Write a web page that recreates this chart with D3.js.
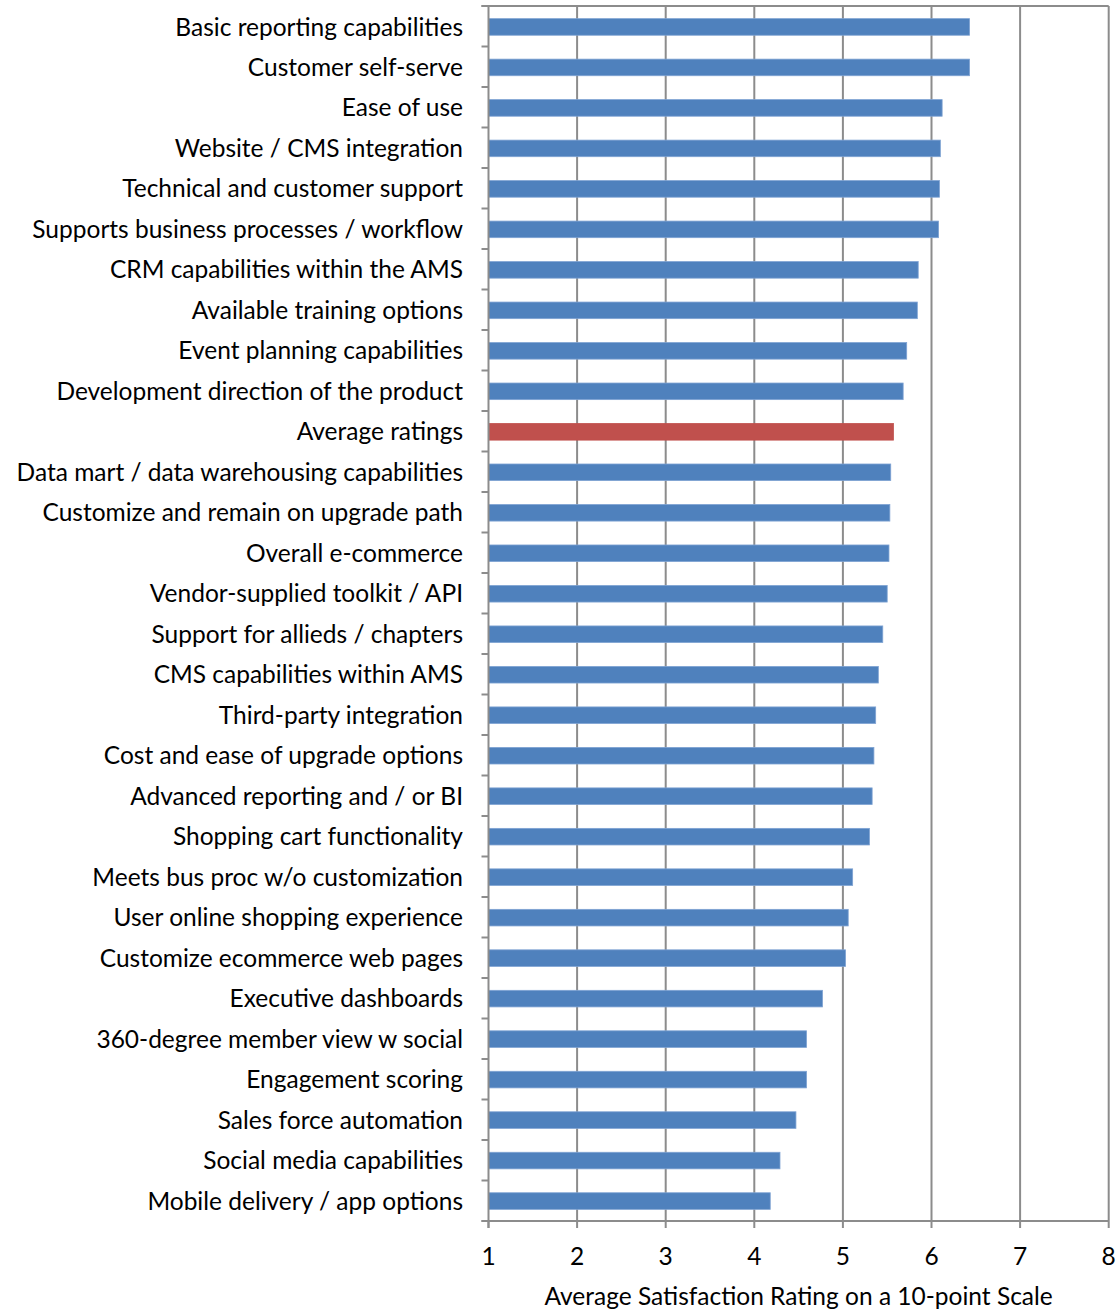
<!DOCTYPE html>
<html><head><meta charset="utf-8">
<script src="https://cdn.jsdelivr.net/npm/d3@7"></script>
<style>body{margin:0;background:#fff;} svg{display:block;} text{font-family:Lato,"Liberation Sans",sans-serif;fill:#000;}</style>
</head><body>
<script>
const categories = ["Basic reporting capabilities","Customer self-serve","Ease of use","Website / CMS integration","Technical and customer support","Supports business processes / workflow","CRM capabilities within the AMS","Available training options","Event planning capabilities","Development direction of the product","Average ratings","Data mart / data warehousing capabilities","Customize and remain on upgrade path","Overall e-commerce","Vendor-supplied toolkit / API","Support for allieds / chapters","CMS capabilities within AMS","Third-party integration","Cost and ease of upgrade options","Advanced reporting and / or BI","Shopping cart functionality","Meets bus proc w/o customization","User online shopping experience","Customize ecommerce web pages","Executive dashboards","360-degree member view w social","Engagement scoring","Sales force automation","Social media capabilities","Mobile delivery / app options"];
const values = [6.43,6.43,6.12,6.10,6.09,6.08,5.85,5.84,5.72,5.68,5.57,5.54,5.53,5.52,5.50,5.45,5.40,5.37,5.35,5.33,5.30,5.11,5.06,5.03,4.77,4.59,4.59,4.47,4.29,4.18];
const highlight = "Average ratings";
const xTicks = [1,2,3,4,5,6,7,8];
const xTitle = "Average Satisfaction Rating on a 10-point Scale";

const W=1120,H=1311;
const m={left:488.5,right:1108.7,top:6,bottom:1221};
const svg=d3.select("body").append("svg").attr("width",W).attr("height",H);
const x=d3.scaleLinear().domain([1,8]).range([m.left,m.right]);
const y=d3.scaleBand().domain(categories).range([m.top,m.bottom]).paddingInner(0.59).paddingOuter(0.3);
const grid="#8c8c8c";
const fs=24.5;

// gridlines
svg.append("g").selectAll("line").data(xTicks.slice(1)).join("line")
 .attr("x1",d=>x(d)).attr("x2",d=>x(d)).attr("y1",m.top).attr("y2",m.bottom)
 .attr("stroke",grid).attr("stroke-width",2);
// top border
svg.append("line").attr("x1",m.left-7).attr("x2",m.right).attr("y1",m.top).attr("y2",m.top).attr("stroke",grid).attr("stroke-width",2);

// bars
svg.append("g").selectAll("rect").data(categories).join("rect")
 .attr("x",x(1)).attr("y",d=>y(d)+0.5).attr("width",(d,i)=>x(values[i])-x(1)).attr("height",y.bandwidth())
 .attr("fill",d=>d===highlight?"#C0504D":"#4F81BD")
 .attr("stroke",d=>d===highlight?"#C0504D":"#7FA3D3").attr("stroke-width",0.8);

// y axis
const step=(m.bottom-m.top)/categories.length;
const yAxis=svg.append("g");
yAxis.append("line").attr("x1",m.left).attr("x2",m.left).attr("y1",m.top).attr("y2",m.bottom+7).attr("stroke",grid).attr("stroke-width",2);
yAxis.selectAll("line.tk").data(d3.range(categories.length+1)).join("line").attr("class","tk")
 .attr("x1",m.left-7).attr("x2",m.left).attr("y1",i=>m.top+i*step).attr("y2",i=>m.top+i*step)
 .attr("stroke",grid).attr("stroke-width",2);
yAxis.selectAll("text").data(categories).join("text")
 .attr("x",463).attr("y",d=>y(d)+y.bandwidth()/2+0.5).attr("dy","0.35em").attr("text-anchor","end")
 .attr("font-size",fs).text(d=>d);

// x axis
const xAxis=svg.append("g");
xAxis.append("line").attr("x1",m.left-7).attr("x2",m.right).attr("y1",m.bottom).attr("y2",m.bottom).attr("stroke",grid).attr("stroke-width",2);
xAxis.selectAll("line.tk").data(xTicks).join("line").attr("class","tk")
 .attr("x1",d=>x(d)).attr("x2",d=>x(d)).attr("y1",m.bottom).attr("y2",m.bottom+7).attr("stroke",grid).attr("stroke-width",2);
xAxis.selectAll("text").data(xTicks).join("text")
 .attr("x",d=>x(d)).attr("y",1256).attr("dy","0.35em").attr("text-anchor","middle").attr("font-size",fs).text(d=>d);
svg.append("text").attr("x",(m.left+m.right)/2).attr("y",1296).attr("dy","0.35em").attr("text-anchor","middle")
 .attr("font-size",fs).text(xTitle);
</script>
</body></html>
